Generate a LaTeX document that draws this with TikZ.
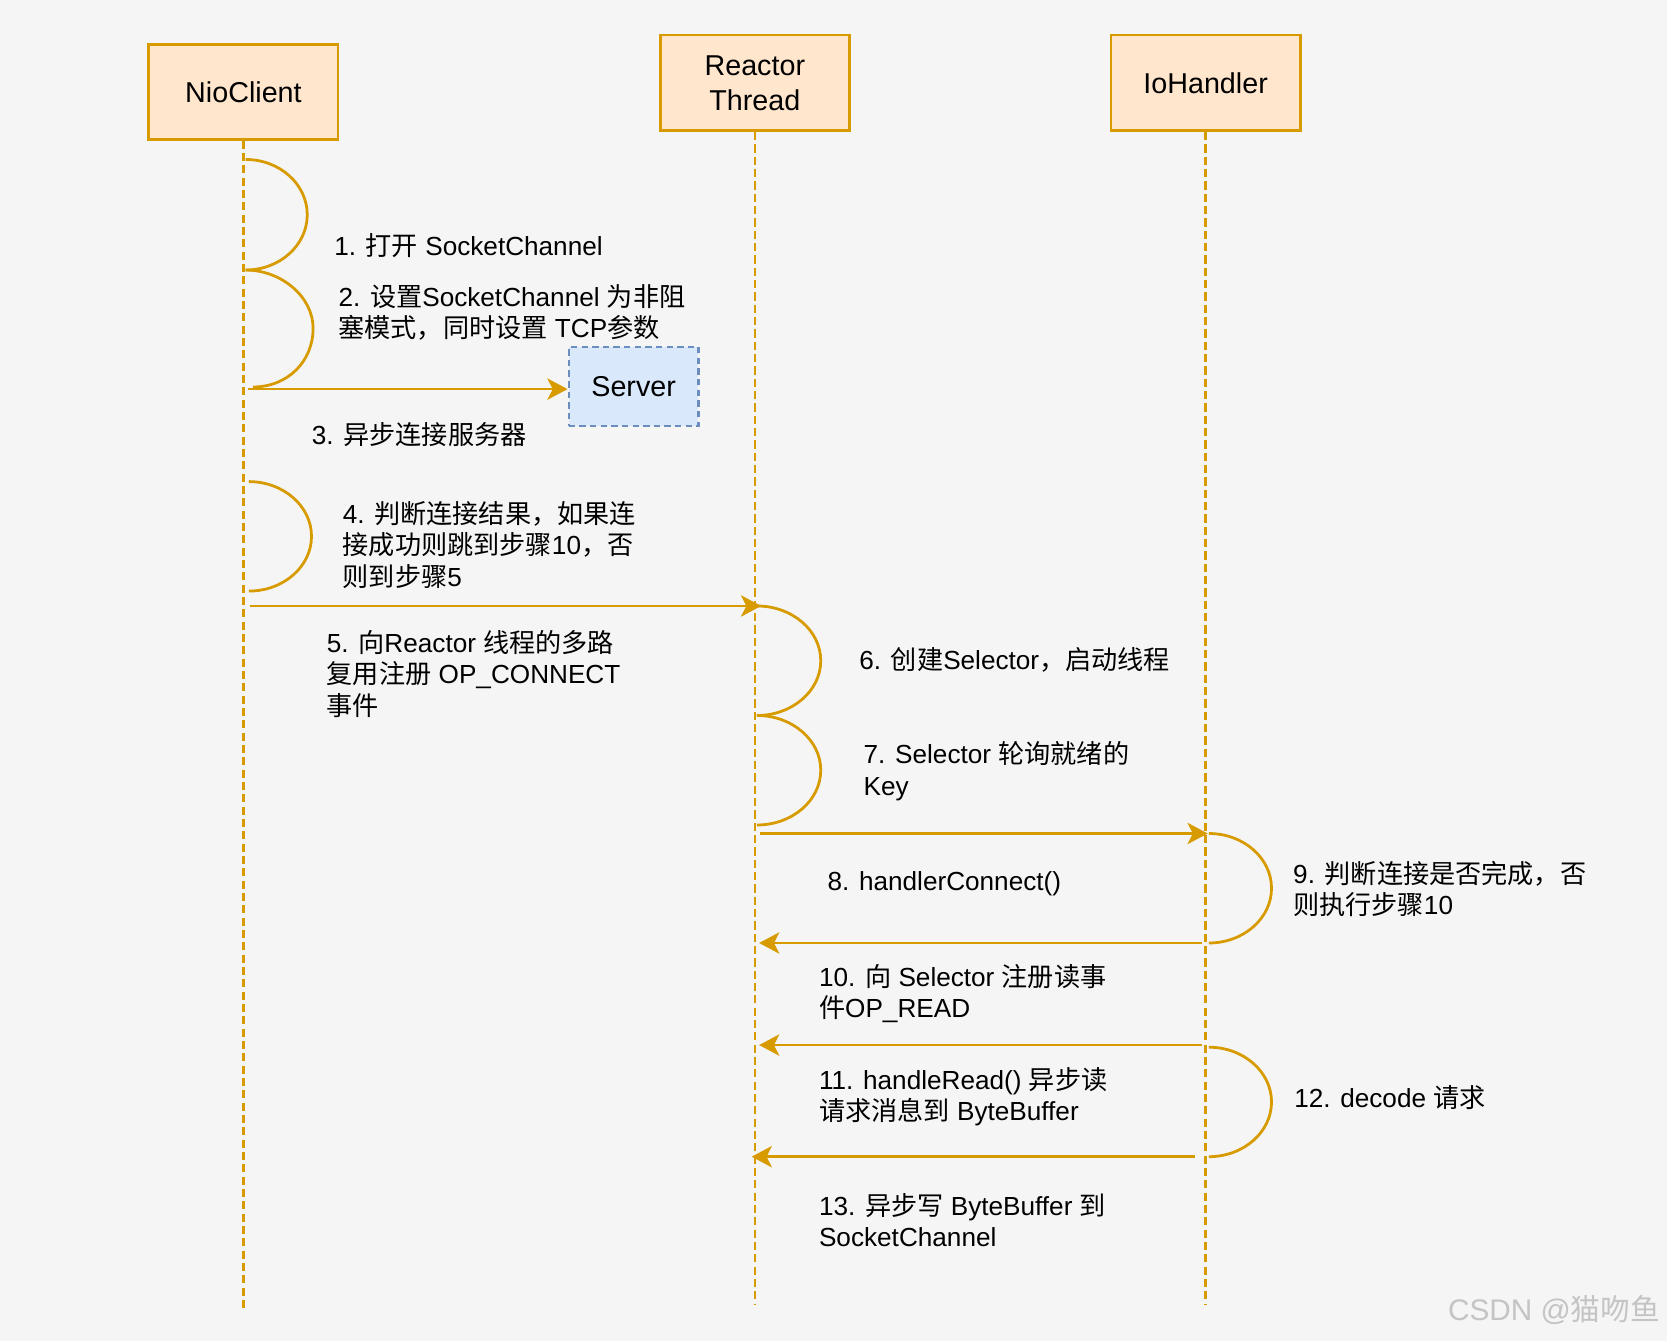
\documentclass[tikz,border=0pt]{standalone}
\usepackage{fontspec}
\setmainfont{Liberation Sans}
\newfontfamily\cjkfont{Noto Sans CJK SC}
\newcommand\zh[1]{{\cjkfont #1}}
\usetikzlibrary{arrows.meta,calc}
\definecolor{bg}{HTML}{F5F5F5}
\definecolor{orng}{HTML}{D79B00}
\definecolor{peach}{HTML}{FFE6CC}
\definecolor{lblue}{HTML}{DAE8FC}
\definecolor{dblue}{HTML}{6C8EBF}
\definecolor{wmark}{HTML}{C4C4C4}
% self loop: #1 start, #2 end, #3 bulge width, #4 half height
\newcommand\sloop[4]{\draw[loopline] (#1) .. controls +({0.552*#3},0) and +(0,{-0.552*#4}) .. ($(#1)!0.5!(#2)+(#3,0)$) .. controls +(0,{0.552*#4}) and +({0.552*#3},0) .. (#2);}
\begin{document}
\begin{tikzpicture}[x=0.5pt,y=-0.5pt,
 actor/.style={draw=orng, fill=peach, line width=1.3pt, minimum width=89pt, minimum height=45pt, align=center, font=\fontsize{13.5}{16.5}\selectfont, inner sep=0pt},
 srv/.style={draw=dblue, fill=lblue, line width=1.1pt, dash pattern=on 3pt off 2pt, minimum width=61pt, minimum height=37pt, inner sep=0pt, font=\fontsize{13.5}{16.5}\selectfont},
 lifeline/.style={draw=orng, line width=1.1pt, dash pattern=on 3.8pt off 2pt},
 loopline/.style={draw=orng, line width=1.3pt},
 msg/.style={draw=orng, line width=1.3pt, -{Stealth[length=9.5pt,width=10pt,inset=2.5pt]}},
 lbl/.style={anchor=west, align=left, inner sep=0pt, font=\fontsize{12.3}{14.8}\selectfont},
]
\fill[bg] (0,0) rectangle (1568,1261);
\useasboundingbox (0,0) rectangle (1568,1261);

% actors
\node[actor, minimum height=44.5pt] (nio) at (229,86.5) {NioClient};
\node[actor] (rt) at (710,78) {Reactor\\Thread};
\node[actor] (ioh) at (1134,78) {IoHandler};
\node[srv] (server) at (596,363.5) {Server};

% lifeline ends
\coordinate (nioend) at (229,1230);
\coordinate (rtend) at (710,1227);
\coordinate (iohend) at (1134,1227);
\draw[lifeline] (nio.south) -- (nioend);
\draw[lifeline] (rt.south) -- (rtend);
\draw[lifeline] (ioh.south) -- (iohend);

% points on lifelines
\coordinate (a1) at (231,150);
\coordinate (a2) at (231,254);
\coordinate (a3) at (238,364);
\coordinate (a3s) at (233,366);
\coordinate (a4) at (234,453);
\coordinate (a5) at (234,556);
\coordinate (a5s) at (235,570);
\coordinate (r5) at (716,570);
\coordinate (r5l) at (712,570);
\coordinate (r6) at (712,673);
\coordinate (r7) at (712,776);
\coordinate (r8s) at (715,784);
\coordinate (h8) at (1136,784);
\coordinate (h8l) at (1137,784);
\coordinate (h9) at (1137,887);
\coordinate (h10s) at (1131,887);
\coordinate (r10) at (714,887);
\coordinate (h11s) at (1131,983);
\coordinate (r11) at (714,983);
\coordinate (h12a) at (1137,985);
\coordinate (h12b) at (1137,1088);
\coordinate (h13s) at (1124,1088);
\coordinate (r13) at (707,1088);

% loops
\sloop{a1}{a2}{58}{52}
\sloop{a2}{a3}{60}{55}
\sloop{a4}{a5}{59}{51.5}
\sloop{r5l}{r6}{60}{51.5}
\sloop{r6}{r7}{60}{51.5}
\sloop{h8l}{h9}{59}{51.5}
\sloop{h12a}{h12b}{59}{51.5}

% messages
\draw[msg] (a3s) -- (a3s -| server.west);
\draw[msg] (a5s) -- (r5);
\draw[msg] (r8s) -- (h8);
\draw[msg] (h10s) -- (r10);
\draw[msg] (h11s) -- (r11);
\draw[msg] (h13s) -- (r13);

% labels
\node[lbl] (l1) at (314,231) {1. \zh{打开} SocketChannel};
\node[lbl] (l2) at (318,294) {2. \zh{设置}SocketChannel \zh{为非阻}\\\zh{塞模式，同时设置} TCP\zh{参数}};
\node[lbl] (l3) at (293,409) {3. \zh{异步连接服务器}};
\node[lbl] (l4) at (322,512.5) {4. \zh{判断连接结果，如果连}\\\zh{接成功则跳到步骤}10\zh{，否}\\\zh{则到步骤}5};
\node[lbl] (l5) at (307,634) {5. \zh{向}Reactor \zh{线程的多路}\\\zh{复用注册} OP\_CONNECT\\\zh{事件}};
\node[lbl] (l6) at (808,621) {6. \zh{创建}Selector\zh{，启动线程}};
\node[lbl] (l7) at (812,725.5) {7. Selector \zh{轮询就绪的}\\Key};
\node[lbl] (l8) at (778,831) {8. handlerConnect()};
\node[lbl] (l9) at (1216,836) {9. \zh{判断连接是否完成，否}\\\zh{则执行步骤}10};
\node[lbl] (l10) at (770,934.5) {10. \zh{向} Selector \zh{注册读事}\\\zh{件}OP\_READ};
\node[lbl] (l11) at (770,1031.5) {11. handleRead() \zh{异步读}\\\zh{请求消息到} ByteBuffer};
\node[lbl] (l12) at (1217,1032) {12. decode \zh{请求}};
\node[lbl] (l13) at (770,1147.5) {13. \zh{异步写} ByteBuffer \zh{到}\\SocketChannel};

\node[anchor=east, inner sep=0pt, text=wmark, font=\fontsize{14}{16}\selectfont] (wm) at (1562,1232) {CSDN @\zh{猫吻鱼}};
\end{tikzpicture}
\end{document}
